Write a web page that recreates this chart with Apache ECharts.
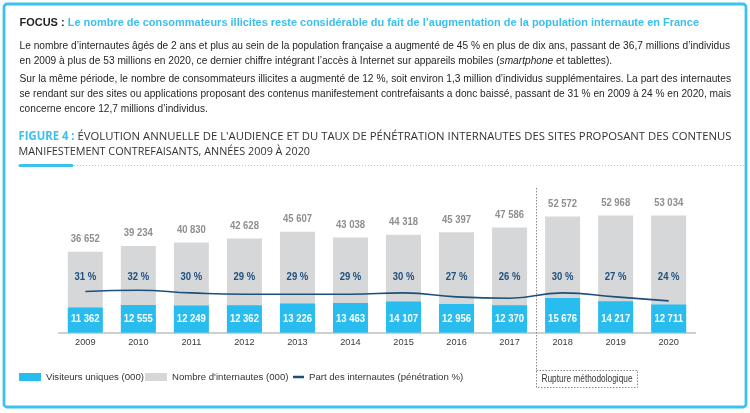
<!DOCTYPE html>
<html>
<head>
<meta charset="utf-8">
<script src="https://cdn.jsdelivr.net/npm/echarts@6/dist/echarts.min.js"></script>
<style>
html,body{margin:0;padding:0;background:#fff;}
#c{width:750px;height:413px;}
</style>
</head>
<body>
<div id="c"></div>
<script>
// ---------- DATA ----------
const years = ['2009','2010','2011','2012','2013','2014','2015','2016','2017','2018','2019','2020'];
const internautes = [36652,39234,40830,42628,45607,43038,44318,45397,47586,52572,52968,53034];
const visiteurs = [11362,12555,12249,12362,13226,13463,14107,12956,12370,15676,14217,12711];
const penetration = [31,32,30,29,29,29,30,27,26,30,27,24];
const seriesNames = ['Visiteurs uniques (000)', "Nombre d'internautes (000)", 'Part des internautes (pénétration %)'];
const ruptureBetween = ['2017','2018'];
const ruptureLabel = 'Rupture méthodologique';

const focusLabel = 'FOCUS : ';
const focusTitle = 'Le nombre de consommateurs illicites reste considérable du fait de l’augmentation de la population internaute en France';
const body1 = 'Le nombre d’internautes âgés de 2 ans et plus au sein de la population française a augmenté de 45 % en plus de dix ans, passant de 36,7 millions d’individus';
const body2a = 'en 2009 à plus de 53 millions en 2020, ce dernier chiffre intégrant l’accès à Internet sur appareils mobiles (';
const body2b = 'smartphone';
const body2c = ' et tablettes).';
const body3 = 'Sur la même période, le nombre de consommateurs illicites a augmenté de 12 %, soit environ 1,3 million d’individus supplémentaires. La part des internautes';
const body4 = 'se rendant sur des sites ou applications proposant des contenus manifestement contrefaisants a donc baissé, passant de 31 % en 2009 à 24 % en 2020, mais';
const body5 = 'concerne encore 12,7 millions d’individus.';
const figLabel = 'FIGURE 4 : ';
const figTitle1 = 'ÉVOLUTION ANNUELLE DE L\'AUDIENCE ET DU TAUX DE PÉNÉTRATION INTERNAUTES DES SITES PROPOSANT DES CONTENUS';
const figTitle2 = 'MANIFESTEMENT CONTREFAISANTS, ANNÉES 2009 À 2020';

// ---------- STYLE ----------
const NARROW = '"Liberation Sans Narrow", "Liberation Sans", Arial, sans-serif';
const OPEN = '"Open Sans", "Noto Sans", sans-serif';
const BLUE = '#29bdef';
const FRAME = '#3cc2ef';
const GREY = '#d5d7d9';
const NAVY = '#1d4f7c';
const TXT = '#231f20';

function fmt(n){ return String(n).replace(/\B(?=(\d{3})+(?!\d))/g, ' '); }

const mctx = document.createElement('canvas').getContext('2d');
function tw(style, weight, size, family, s){
  mctx.font = style + ' ' + weight + ' ' + size + 'px ' + family;
  return mctx.measureText(s).width;
}

// horizontal condensation factors for the narrow typeface of the original
const sGreyLab = 29 / tw('normal','bold',11,NARROW,'36 652');
const sBlueLab = 28.5 / tw('normal','bold',11.5,NARROW,'11 362');
const sPctLab = 21.7 / tw('normal','bold',10.5,NARROW,'31 %');

const chart = echarts.init(document.getElementById('c'), null, {renderer:'canvas'});

function labelSeries(values, yIdx, makeY, fmtFn, st, scale){
  return {
    type: 'custom', yAxisIndex: yIdx, silent: true, z: 5,
    data: values.map((v, i) => [i, v]),
    renderItem: function(params, api){
      const i = api.value(0), v = api.value(1);
      const base = api.coord([i, 0]);
      const top = api.coord([i, v]);
      return {type: 'text', x: base[0], y: makeY(base[1], top[1]), scaleX: scale,
        style: Object.assign({text: fmtFn(v), align: 'center', verticalAlign: 'middle'}, st)};
    }
  };
}

const option = {
  animation: false,
  backgroundColor: '#fff',
  grid: {left: 58.8, right: 54.8, top: 200, bottom: 80.3},
  xAxis: {
    type: 'category', data: years,
    axisTick: {show: false},
    axisLine: {lineStyle: {color: '#cdd0d2', width: 2}},
    axisLabel: {color: '#3a3a3a', fontSize: 9.2, fontFamily: NARROW, margin: 5}
  },
  yAxis: [
    {type: 'value', min: 0, max: 60000, show: false, splitLine: {show: false}},
    {type: 'value', min: 0, max: 100, show: false, splitLine: {show: false}}
  ],
  legend: [
    {left: 19, top: 372, padding: 0, itemWidth: 22, itemHeight: 8, icon: 'rect', selectedMode: false,
     data: [seriesNames[0]], textStyle: {fontSize: 9.6, color: '#333', fontFamily: NARROW}},
    {left: 145, top: 372, padding: 0, itemWidth: 22, itemHeight: 8, icon: 'rect', selectedMode: false,
     data: [seriesNames[1]], textStyle: {fontSize: 9.6, color: '#333', fontFamily: NARROW}},
    {left: 293, top: 372, padding: 0, itemWidth: 11, itemHeight: 2.5, icon: 'rect', selectedMode: false,
     data: [seriesNames[2]], textStyle: {fontSize: 9.6, color: '#333', fontFamily: NARROW}}
  ],
  series: [
    {
      name: seriesNames[1], type: 'bar', data: internautes, barWidth: 35, barGap: '-100%',
      itemStyle: {color: GREY}
    },
    {
      name: seriesNames[0], type: 'bar', data: visiteurs, barWidth: 35, barGap: '-100%',
      itemStyle: {color: BLUE}
    },
    {
      name: seriesNames[2], type: 'line', yAxisIndex: 1, data: penetration, smooth: 0.5,
      symbol: 'none', z: 4,
      lineStyle: {color: NAVY, width: 1.6}, itemStyle: {color: NAVY}
    },
    // value labels above the grey bars
    labelSeries(internautes, 0, (b, t) => t - 12.5, fmt,
      {fill: '#8c8f92', fontWeight: 'bold', fontSize: 11, fontFamily: NARROW}, sGreyLab),
    // value labels inside the blue bars
    labelSeries(visiteurs, 0, (b, t) => b - 13.5, fmt,
      {fill: '#fff', fontWeight: 'bold', fontSize: 11.5, fontFamily: NARROW}, sBlueLab),
    // penetration labels
    labelSeries(penetration, 1, (b, t) => b - 56, v => v + ' %',
      {fill: NAVY, fontWeight: 'bold', fontSize: 10.5, fontFamily: NARROW}, sPctLab)
  ]
};
chart.setOption(option);

// ---------- TEXT / DECORATION ----------
const BS = 11; // body size
const sBody = (730 - 19.5) / tw('normal','normal',BS,NARROW,body1);
const sBody3 = (731 - 19.5) / tw('normal','normal',BS,NARROW,body3);
const sBody4 = (731 - 19.5) / tw('normal','normal',BS,NARROW,body4);
const sFocus = (699 - 19.5) / (tw('normal','bold',11.5,NARROW,focusLabel) + tw('normal','bold',11.5,NARROW,focusTitle));
const FS = 11.5;
const sT1 = (731.5 - 18.5) / (tw('normal','bold',FS,OPEN,figLabel) + tw('normal','normal',FS,OPEN,figTitle1));
const sT2 = (310 - 18.5) / tw('normal','normal',FS,OPEN,figTitle2);
const sRup = 91 / tw('normal','normal',10.5,NARROW,ruptureLabel);

function bodyLine(text, y, scale){
  return {type:'text', x: 19.5, y: y, scaleX: scale, silent: true,
    style: {text: text, fill: TXT, fontSize: BS, fontFamily: NARROW, verticalAlign: 'middle', align: 'left'}};
}

const x17 = chart.convertToPixel({xAxisIndex: 0}, ruptureBetween[0]);
const x18 = chart.convertToPixel({xAxisIndex: 0}, ruptureBetween[1]);
const mid = Math.round((x17 + x18) / 2) + 0.5;

const graphics = [
  {type:'rect', silent:true, z: 0, shape:{x:4, y:4, width:742, height:403, r:3},
   style:{fill:'none', stroke: FRAME, lineWidth: 2.8}},
  {type:'text', x: 19.5, y: 23, scaleX: sFocus, silent: true,
   style: {text: '{a|' + focusLabel + '}{b|' + focusTitle + '}', verticalAlign:'middle', align:'left',
     rich: {a: {fontSize: 11.5, fontWeight:'bold', fontFamily: NARROW, fill: TXT},
            b: {fontSize: 11.5, fontWeight:'bold', fontFamily: NARROW, fill: '#3bbfee'}}}},
  bodyLine(body1, 45.5, sBody),
  {type:'text', x: 19.5, y: 61, scaleX: sBody, silent: true,
   style: {text: '{n|' + body2a + '}{i|' + body2b + '}{n|' + body2c + '}', verticalAlign:'middle', align:'left',
     rich: {n: {fontSize: BS, fontFamily: NARROW, fill: TXT},
            i: {fontSize: BS, fontFamily: NARROW, fontStyle: 'italic', fill: TXT}}}},
  bodyLine(body3, 79, sBody3),
  bodyLine(body4, 94, sBody4),
  bodyLine(body5, 108.5, sBody),
  {type:'text', x: 18.5, y: 136.5, scaleX: sT1, silent: true,
   style: {text: '{a|' + figLabel + '}{b|' + figTitle1 + '}', verticalAlign:'middle', align:'left',
     rich: {a: {fontSize: FS, fontWeight:'bold', fontFamily: OPEN, fill: '#3bbfee'},
            b: {fontSize: FS, fontFamily: OPEN, fill: '#333'}}}},
  {type:'text', x: 18.5, y: 151.5, scaleX: sT2, silent: true,
   style: {text: figTitle2, fontSize: FS, fontFamily: OPEN, fill: '#333', verticalAlign:'middle', align:'left'}},
  {type:'line', silent:true, shape:{x1: 20, y1: 165.5, x2: 745, y2: 165.5},
   style:{stroke:'#8fd4f2', lineWidth: 1, lineDash:[1, 2]}},
  {type:'rect', silent:true, shape:{x: 18.5, y: 164, width: 55, height: 3, r: 1.5}, style:{fill: FRAME}},
  {type:'line', silent:true, z: 10, shape:{x1: mid, y1: 188, x2: mid, y2: 370},
   style:{stroke:'#8a8a8a', lineWidth: 1, lineDash:[1.5, 1.5]}},
  {type:'rect', silent:true, z: 10, shape:{x: mid, y: 370.5, width: 101, height: 17},
   style:{fill:'none', stroke:'#8a8a8a', lineWidth: 1, lineDash:[1.5, 1.5]}},
  {type:'text', silent:true, z: 10, x: mid + 50.5, y: 379, scaleX: sRup,
   style:{text: ruptureLabel, fontSize: 10.5, fontFamily: NARROW, fill: '#333', align:'center', verticalAlign:'middle'}}
];
chart.setOption({graphic: graphics});
</script>
</body>
</html>
